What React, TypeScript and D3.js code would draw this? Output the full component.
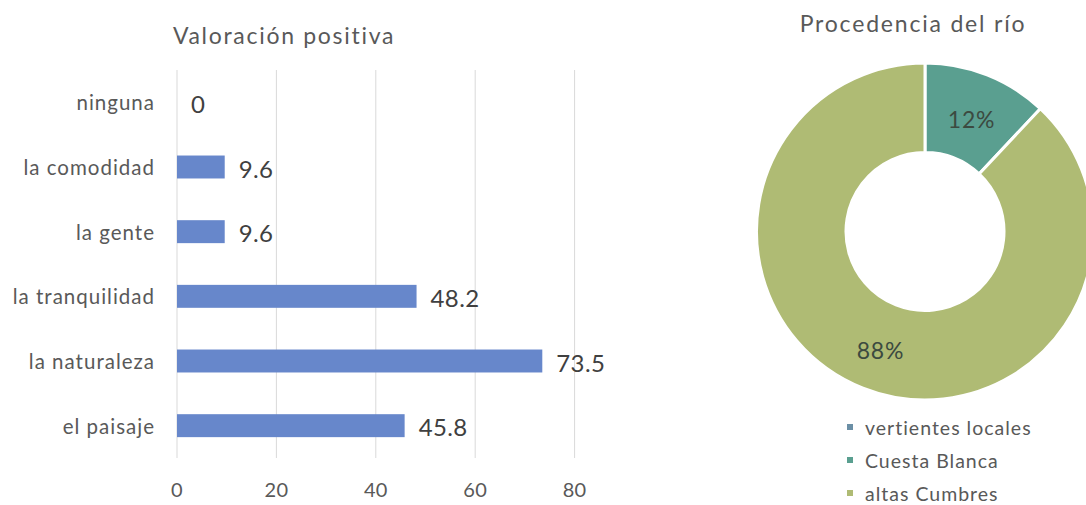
import React from "react";
import * as d3 from "d3";

const barCategories = ["ninguna", "la comodidad", "la gente", "la tranquilidad", "la naturaleza", "el paisaje"];
const barValues = [0, 9.6, 9.6, 48.2, 73.5, 45.8];
const barTicks = [0, 20, 40, 60, 80];

const donutLabels = ["vertientes locales", "Cuesta Blanca", "altas Cumbres"];
const donutValues = [0, 12, 88];
const donutColors = ["#6b8fa6", "#5a9f90", "#afbb74"];

const FONT = "Lato, 'Open Sans', sans-serif";

export default function App() {
  const x = d3.scaleLinear().domain([0, 80]).range([177, 574.6]);
  const y = d3.scaleBand<string>().domain(barCategories).range([70, 458]).paddingInner(0.645).paddingOuter(0.3225);

  const cx = 925, cy = 231.5, rOut = 168.5, rIn = 79;
  const pie = d3.pie<number>().sort(null).value((d) => d)(donutValues);
  const arc = d3.arc<d3.PieArcDatum<number>>().innerRadius(rIn).outerRadius(rOut);
  const legendY = d3.scalePoint<string>().domain(donutLabels).range([427, 493]);

  return (
    <svg width={1086} height={505} style={{ position: "absolute", left: 0, top: 0, background: "#fff" }} fontFamily={FONT}>
      <rect width={1086} height={505} fill="#fff" />
      {/* Bar chart */}
      <text x={284} y={35} textAnchor="middle" dominantBaseline="central" fontSize={23} fill="#595959" letterSpacing={1.7}>
        Valoración positiva
      </text>
      {barTicks.map((t) => (
        <g key={t}>
          <line x1={x(t)} x2={x(t)} y1={70} y2={458} stroke="#d9d9d9" strokeWidth={1} />
          <text x={x(t)} y={489} textAnchor="middle" dominantBaseline="central" fontSize={20} fill="#595959" letterSpacing={0.3}>
            {t}
          </text>
        </g>
      ))}
      {barCategories.map((c, i) => {
        const yc = (y(c) as number) + y.bandwidth() / 2;
        return (
          <g key={c}>
            <text x={155} y={yc} textAnchor="end" dominantBaseline="central" fontSize={20.5} fill="#595959" letterSpacing={1}>
              {c}
            </text>
            {barValues[i] > 0 && (
              <rect x={x(0)} y={y(c)} width={x(barValues[i]) - x(0)} height={y.bandwidth()} fill="#6787cb" />
            )}
            <text x={x(barValues[i]) + 14} y={yc + 1} dominantBaseline="central" fontSize={24} fill="#404040" letterSpacing={0.4}>
              {barValues[i]}
            </text>
          </g>
        );
      })}
      {/* Donut */}
      <text x={913} y={23} textAnchor="middle" dominantBaseline="central" fontSize={23} fill="#595959" letterSpacing={1.8}>
        Procedencia del río
      </text>
      <g transform={`translate(${cx},${cy})`}>
        {pie.map((p, i) =>
          p.value > 0 ? <path key={i} d={arc(p) as string} fill={donutColors[i]} stroke="#fff" strokeWidth={3} /> : null
        )}
        {pie.map((p, i) => {
          if (p.value <= 0) return null;
          const [lx, ly] = arc.centroid(p);
          return (
            <text key={"l" + i} x={lx + 1} y={ly + 3} textAnchor="middle" dominantBaseline="central" fontSize={23} fill="#3c4a40" letterSpacing={0.8}>
              {`${p.value}%`}
            </text>
          );
        })}
      </g>
      {donutLabels.map((l, i) => (
        <g key={l}>
          <rect x={847} y={(legendY(l) as number) - 3} width={6} height={6} fill={donutColors[i]} />
          <text x={865} y={legendY(l)} dominantBaseline="central" fontSize={19.5} fill="#595959" letterSpacing={1}>
            {l}
          </text>
        </g>
      ))}
    </svg>
  );
}
